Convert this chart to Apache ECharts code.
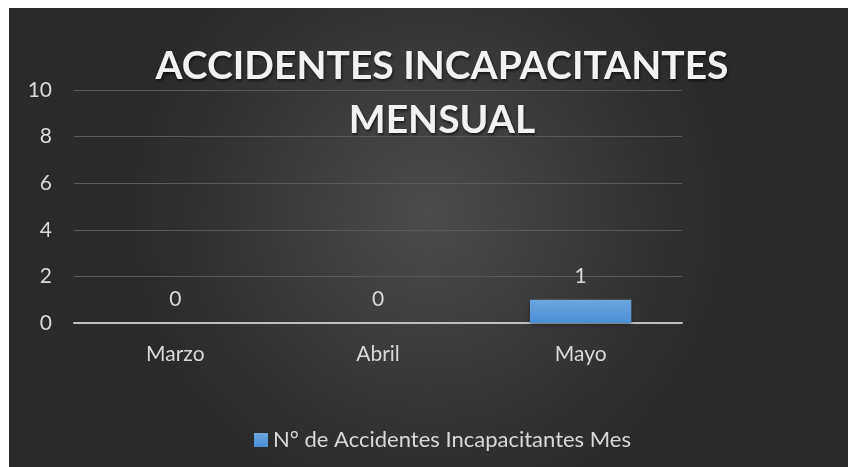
<!DOCTYPE html>
<html>
<head>
<meta charset="utf-8">
<script src="https://cdn.jsdelivr.net/npm/echarts@6/dist/echarts.min.js"></script>
<style>html,body{margin:0;padding:0;background:#fff}#c{width:848px;height:467px}</style>
</head>
<body>
<div id="c"></div>
<script>
const categories = ["Marzo", "Abril", "Mayo"];
const values = [0, 0, 1];
const seriesName = "N° de Accidentes Incapacitantes Mes";
const titleText = "ACCIDENTES INCAPACITANTES\nMENSUAL";

const FONT = 'Lato';
const chart = echarts.init(document.getElementById('c'));
chart.setOption({
  backgroundColor: '#ffffff',
  animation: false,
  graphic: [{
    type: 'rect', z: -10, silent: true,
    shape: { x: 9, y: 8, width: 839, height: 459 },
    style: {
      fill: new echarts.graphic.RadialGradient(0.5, 0.45, 0.65, [
        { offset: 0, color: '#4b4b4b' },
        { offset: 1, color: '#2a2a2a' }
      ])
    }
  }],
  title: {
    text: titleText,
    left: 437, top: 34, textAlign: 'center',
    textStyle: {
      color: '#f2f2f2', fontFamily: FONT, fontWeight: 'bold',
      fontSize: 39, lineHeight: 54,
      textShadowColor: 'rgba(0,0,0,0.6)', textShadowBlur: 3, textShadowOffsetX: 1, textShadowOffsetY: 2
    }
  },
  grid: { left: 74, right: 166, top: 90, bottom: 144, containLabel: false },
  legend: {
    data: [seriesName], left: 249, top: 424,
    itemWidth: 14, itemHeight: 14, itemGap: 6,
    icon: 'rect',
    textStyle: { color: '#d9d9d9', fontFamily: FONT, fontSize: 22 }
  },
  xAxis: {
    type: 'category', data: categories,
    axisLine: { lineStyle: { color: '#bfbfbf', width: 2 } },
    axisTick: { show: false },
    axisLabel: { color: '#d9d9d9', fontFamily: FONT, fontSize: 21, margin: 21 }
  },
  yAxis: {
    type: 'value', min: 0, max: 10, interval: 2,
    axisLine: { show: false }, axisTick: { show: false },
    axisLabel: { color: '#d9d9d9', fontFamily: FONT, fontSize: 21, margin: 22 },
    splitLine: { lineStyle: { color: '#5a5a5a', width: 1 } }
  },
  series: [{
    name: seriesName, type: 'bar', data: values, barWidth: '50%',
    itemStyle: {
      color: new echarts.graphic.LinearGradient(0, 0, 0, 1, [
        { offset: 0, color: '#6ea6de' },
        { offset: 1, color: '#4a8fd6' }
      ]),
      shadowColor: 'rgba(0,0,0,0.4)', shadowBlur: 4, shadowOffsetY: 2
    },
    label: {
      show: true, position: 'top', distance: 13,
      color: '#d9d9d9', fontFamily: FONT, fontSize: 21
    }
  }]
});
</script>
</body>
</html>
